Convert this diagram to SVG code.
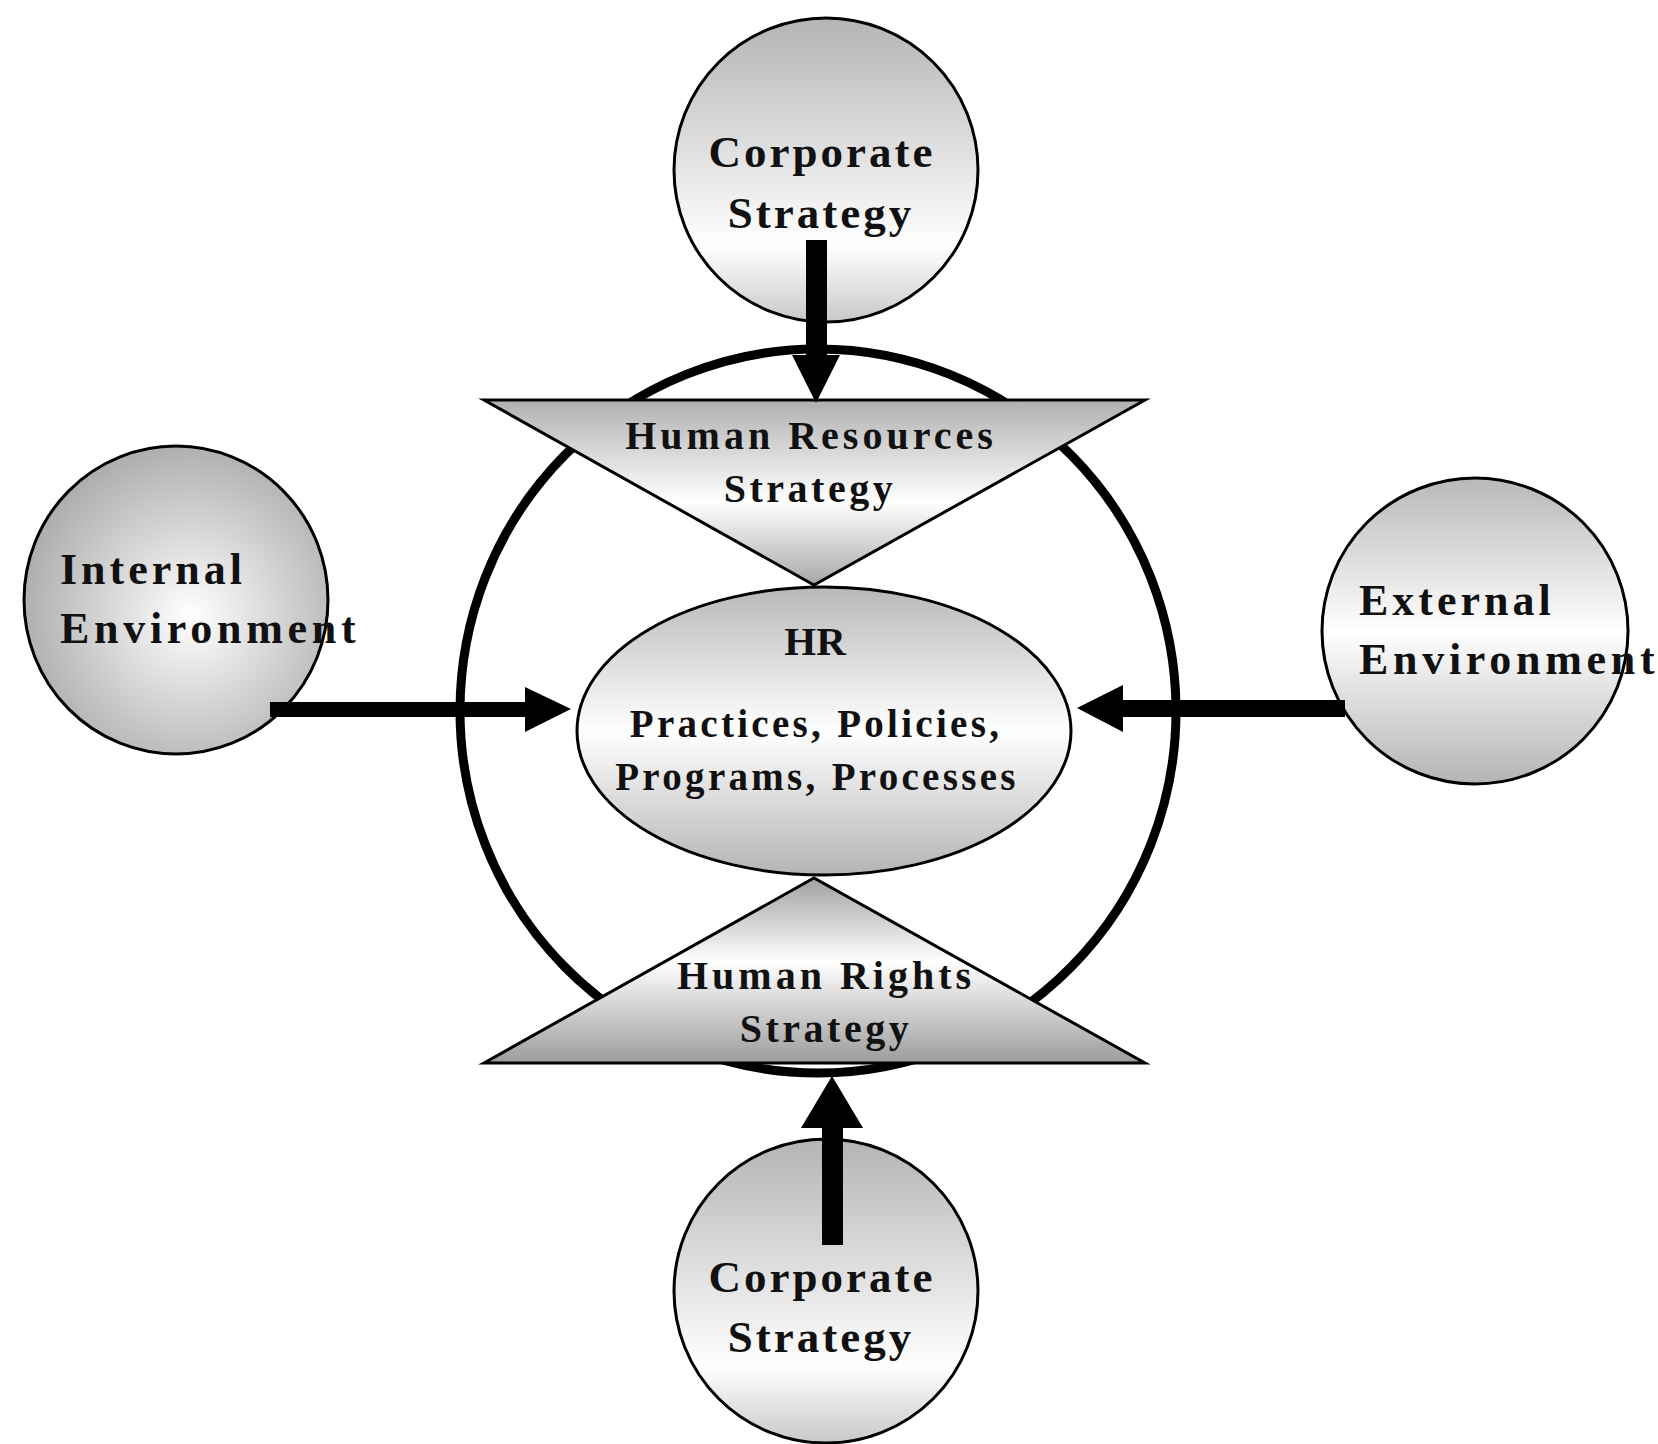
<svg xmlns="http://www.w3.org/2000/svg" width="1658" height="1444" viewBox="0 0 1658 1444">
<defs>
<linearGradient id="gCircle" x1="0" y1="0" x2="0" y2="1">
<stop offset="0" stop-color="#b4b4b4"/>
<stop offset="0.75" stop-color="#ffffff"/>
<stop offset="1" stop-color="#c8c8c8"/>
</linearGradient>
<linearGradient id="gMid" x1="0" y1="0" x2="0" y2="1">
<stop offset="0" stop-color="#b8b8b8"/>
<stop offset="0.5" stop-color="#ffffff"/>
<stop offset="1" stop-color="#b4b4b4"/>
</linearGradient>
<linearGradient id="gTriTop" x1="0" y1="0" x2="0" y2="1">
<stop offset="0" stop-color="#b0b0b0"/>
<stop offset="0.55" stop-color="#ffffff"/>
<stop offset="1" stop-color="#a8a8a8"/>
</linearGradient>
<linearGradient id="gTriBot" x1="0" y1="0" x2="0" y2="1">
<stop offset="0" stop-color="#a0a0a0"/>
<stop offset="0.45" stop-color="#ffffff"/>
<stop offset="1" stop-color="#9c9c9c"/>
</linearGradient>
<radialGradient id="gRad" cx="0.55" cy="0.55" r="0.6">
<stop offset="0" stop-color="#ffffff"/>
<stop offset="1" stop-color="#a8a8a8"/>
</radialGradient>
</defs>
<style>
.node{stroke:#000;stroke-width:3}
.big{fill:none;stroke:#000;stroke-width:9}
.t{font-family:"Liberation Serif","Times New Roman",serif;font-weight:bold;fill:#111}
.c{text-anchor:middle}
.arrow{fill:#000}
</style>
<rect width="1658" height="1444" fill="#fff"/>

<g id="outer-circle">
<ellipse class="big" cx="818" cy="711" rx="358" ry="362"/>
</g>

<g id="hr-strategy">
<polygon class="node" fill="url(#gTriTop)" points="484,400 1145,400 814,585"/>
<text class="t c" font-size="40" letter-spacing="4" x="811" y="449">Human Resources</text>
<text class="t c" font-size="40" letter-spacing="3.5" x="810" y="502">Strategy</text>
</g>

<g id="human-rights-strategy">
<polygon class="node" fill="url(#gTriBot)" points="484,1063 1145,1063 814,878"/>
<text class="t c" font-size="40" letter-spacing="4" x="826" y="989">Human Rights</text>
<text class="t c" font-size="40" letter-spacing="3.5" x="826" y="1042">Strategy</text>
</g>

<g id="hr-practices">
<ellipse class="node" fill="url(#gMid)" cx="824" cy="731" rx="247" ry="144"/>
<text class="t c" font-size="41" x="815" y="655">HR</text>
<text class="t c" font-size="39" letter-spacing="3.3" x="816" y="737">Practices, Policies,</text>
<text class="t c" font-size="39" letter-spacing="3.3" x="817" y="790">Programs, Processes</text>
</g>

<g id="corporate-strategy-top">
<circle class="node" fill="url(#gCircle)" cx="826" cy="170" r="152"/>
<text class="t c" font-size="45" letter-spacing="3" x="822" y="167">Corporate</text>
<text class="t c" font-size="45" letter-spacing="3" x="821" y="228">Strategy</text>
</g>

<g id="corporate-strategy-bottom">
<circle class="node" fill="url(#gCircle)" cx="826" cy="1291" r="152"/>
<text class="t c" font-size="45" letter-spacing="3" x="822" y="1292">Corporate</text>
<text class="t c" font-size="45" letter-spacing="3" x="821" y="1352">Strategy</text>
</g>

<g id="internal-environment">
<ellipse class="node" fill="url(#gRad)" cx="176" cy="600" rx="152" ry="154"/>
<text class="t" font-size="44" letter-spacing="4" x="60" y="584">Internal</text>
<text class="t" font-size="44" letter-spacing="4.7" x="60" y="643">Environment</text>
</g>

<g id="external-environment">
<circle class="node" fill="url(#gMid)" cx="1475" cy="631" r="153"/>
<text class="t" font-size="44" letter-spacing="4" x="1359" y="615">External</text>
<text class="t" font-size="44" letter-spacing="4.7" x="1359" y="674">Environment</text>
</g>

<g id="connectors">
<polygon class="arrow" points="806,240 827,240 827,355 840,355 816,403 792,355 806,355"/>
<polygon class="arrow" points="822,1245 843,1245 843,1128 863,1128 832,1076 801,1128 822,1128"/>
<polygon class="arrow" points="270,702 525,702 525,687 571,709 525,732 525,717 270,717"/>
<polygon class="arrow" points="1345,700 1123,700 1123,685 1077,708 1123,732 1123,717 1345,717"/>
</g>
</svg>
